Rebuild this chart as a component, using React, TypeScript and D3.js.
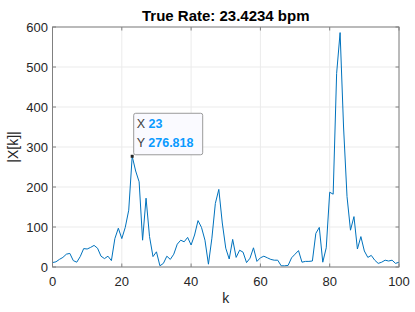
import * as d3 from "d3";

const title = "True Rate: 23.4234 bpm";
const xTicks = [0, 20, 40, 60, 80, 100];
const yTicks = [0, 100, 200, 300, 400, 500, 600];
// |X[k]| for k = 0..100
const magnitude = [
  11, 13, 19, 24, 32, 34, 16, 12, 26, 46,
  45, 49, 54, 47, 27, 21, 27, 16, 71, 97,
  71, 99, 142, 276.818, 240, 213, 67, 172, 76, 26,
  38, 3, 9, 27, 19, 32, 57, 67, 63, 74,
  55, 80, 116, 99, 67, 7, 72, 159, 194, 110,
  47, 20, 69, 24, 42, 37, 11, 22, 48, 14,
  23, 27, 23, 19, 17, 17, 3, 3, 4, 23,
  32, 41, 12, 14, 14, 15, 84, 99, 12, 48,
  187, 182, 484, 586, 350, 176, 92, 126, 45, 76,
  40, 24, 29, 17, 9, 12, 17, 15, 17, 9,
  12,
];
const tipK = 23;
const tipValue = "276.818";

const W = 415;
const H = 312;
const left = 52.5;
const right = 399;
const top = 27;
const bottom = 267;
const font = "'Liberation Sans', Arial, sans-serif";

export default function App() {
  const x = d3.scaleLinear().domain([0, 100]).range([left, right]);
  const y = d3.scaleLinear().domain([0, 600]).range([bottom, top]);
  const line = d3
    .line<number>()
    .x((_, i) => x(i))
    .y((d) => y(d));

  const tx = x(tipK);
  const ty = y(magnitude[tipK]);

  return (
    <div style={{ position: "fixed", left: 0, top: 0 }}>
      <svg width={W} height={H} style={{ display: "block", background: "#fff" }} fontFamily={font}>
        <rect x={left} y={top} width={right - left} height={bottom - top} fill="#fff" />
        {/* grid */}
        {xTicks.map((t) => (
          <line key={"gx" + t} x1={x(t)} x2={x(t)} y1={top} y2={bottom} stroke="#ebebeb" strokeWidth={1} />
        ))}
        {yTicks.map((t) => (
          <line key={"gy" + t} x1={left} x2={right} y1={y(t)} y2={y(t)} stroke="#ebebeb" strokeWidth={1} />
        ))}
        {/* data */}
        <path d={line(magnitude) ?? ""} fill="none" stroke="#0072BD" strokeWidth={1} strokeLinejoin="round" />
        {/* box and ticks */}
        <rect x={left} y={top} width={right - left} height={bottom - top} fill="none" stroke="#808080" strokeWidth={1} />
        {xTicks.map((t) => (
          <g key={"tx" + t}>
            <line x1={x(t)} x2={x(t)} y1={bottom} y2={bottom - 3.5} stroke="#808080" />
            <line x1={x(t)} x2={x(t)} y1={top} y2={top + 3.5} stroke="#808080" />
            <text x={x(t)} y={286} textAnchor="middle" fontSize={13} fill="#262626">
              {t}
            </text>
          </g>
        ))}
        {yTicks.map((t) => (
          <g key={"ty" + t}>
            <line x1={left} x2={left + 3.5} y1={y(t)} y2={y(t)} stroke="#808080" />
            <line x1={right} x2={right - 3.5} y1={y(t)} y2={y(t)} stroke="#808080" />
            <text x={48} y={y(t) + 4.6} textAnchor="end" fontSize={13} fill="#262626">
              {t}
            </text>
          </g>
        ))}
        {/* labels */}
        <text x={(left + right) / 2} y={21} textAnchor="middle" fontSize={15} fontWeight="bold" fill="#000">
          {title}
        </text>
        <text x={(left + right) / 2} y={303} textAnchor="middle" fontSize={14} fill="#262626">
          k
        </text>
        <text
          transform={`translate(18,${(top + bottom) / 2}) rotate(-90)`}
          textAnchor="middle"
          fontSize={14}
          fill="#262626"
        >
          |X[k]|
        </text>
        {/* data tip */}
        <rect x={tx + 1.5} y={ty - 43} width={69} height={41.5} rx={2} fill="#fafaff" fillOpacity={0.95} stroke="#9a9a9a" strokeWidth={1} />
        <text x={tx + 4.5} y={ty - 28.5} fontSize={12.5} fill="#404040">
          X <tspan fill="#0a9bff" fontWeight="bold">{tipK}</tspan>
        </text>
        <text x={tx + 4.5} y={ty - 9.5} fontSize={12.5} fill="#404040">
          Y <tspan fill="#0a9bff" fontWeight="bold">{tipValue}</tspan>
        </text>
        <rect x={tx - 1.5} y={ty - 1.5} width={3} height={3} fill="#262626" />
      </svg>
    </div>
  );
}
